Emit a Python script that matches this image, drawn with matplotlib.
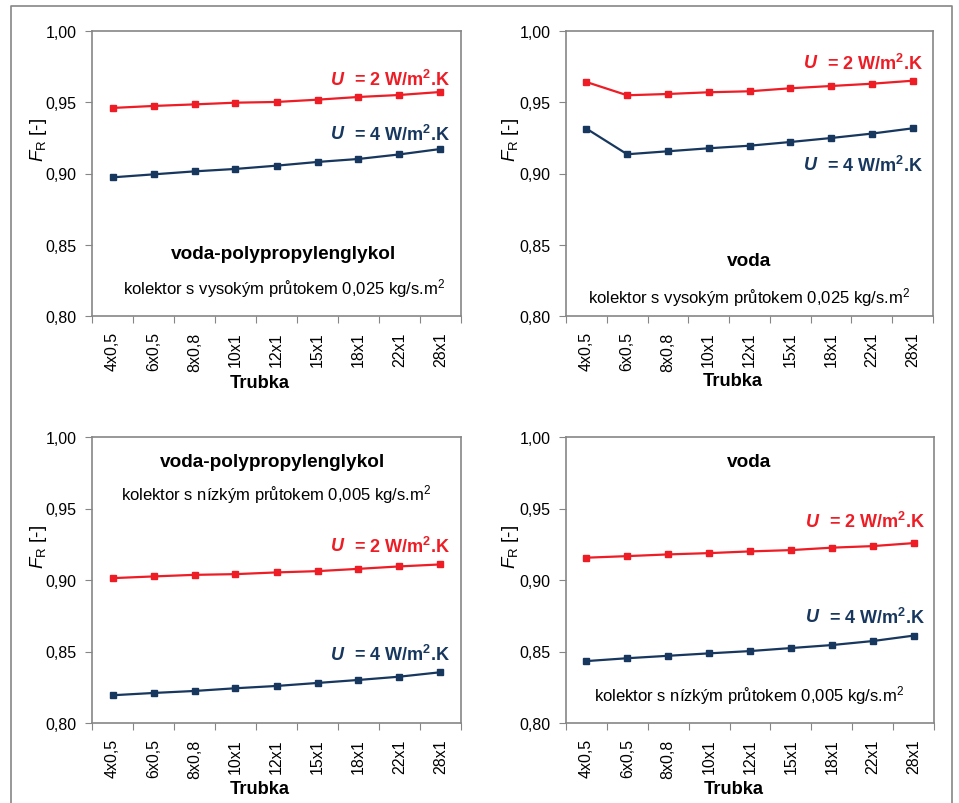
"""Faktor odvodu tepla F_R pro ruzne trubky - 4 panely."""

import matplotlib
matplotlib.use("Agg")
import matplotlib.pyplot as plt
from matplotlib.lines import Line2D

FONT = "Liberation Sans"
plt.rcParams["font.family"] = [FONT, "DejaVu Sans"]
plt.rcParams["mathtext.fontset"] = "custom"
plt.rcParams["mathtext.it"] = FONT + ":italic"
plt.rcParams["mathtext.rm"] = FONT
plt.rcParams["mathtext.bf"] = FONT + ":bold"

RED = "#EE1C25"
BLUE = "#17375E"
GRAY = "#868686"

tubes = ["4x0,5", "6x0,5", "8x0,8", "10x1", "12x1", "15x1", "18x1", "22x1", "28x1"]

# vysoky prutok 0,025 kg/s.m2
ppg_high_u2 = [0.946, 0.9474, 0.9485, 0.9497, 0.9502, 0.9518, 0.9537, 0.9551, 0.9572]
ppg_high_u4 = [0.8973, 0.8994, 0.9015, 0.9032, 0.9055, 0.9081, 0.9102, 0.9134, 0.9172]
voda_high_u2 = [0.9642, 0.9549, 0.9558, 0.9570, 0.9577, 0.9598, 0.9614, 0.9630, 0.9651]
voda_high_u4 = [0.9315, 0.9135, 0.9156, 0.9177, 0.9195, 0.9221, 0.9249, 0.9280, 0.9317]

# nizky prutok 0,005 kg/s.m2
ppg_low_u2 = [0.9013, 0.9025, 0.9036, 0.9041, 0.9053, 0.9062, 0.9078, 0.9095, 0.9109]
ppg_low_u4 = [0.8194, 0.8210, 0.8224, 0.8243, 0.8259, 0.8280, 0.8301, 0.8324, 0.8355]
voda_low_u2 = [0.9156, 0.9167, 0.9179, 0.9188, 0.9200, 0.9209, 0.9226, 0.9237, 0.9258]
voda_low_u4 = [0.8433, 0.8453, 0.8470, 0.8487, 0.8503, 0.8524, 0.8545, 0.8573, 0.8611]

yticks = [0.80, 0.85, 0.90, 0.95, 1.00]
ytick_labels = ["0,80", "0,85", "0,90", "0,95", "1,00"]

W, H = 959, 804


def px_rect(left, top, right, bottom):
    return [left / W, 1 - bottom / H, (right - left) / W, (bottom - top) / H]


def u_label(ax, x, y, value, color):
    rest = ax.text(x, y, f"= {value} W/m$^{{\\mathbf{{2}}}}$.K", transform=ax.transAxes,
                   ha="right", va="center", fontsize=13, fontweight="bold",
                   color=color)
    ax.annotate("U  ", xy=(0, 0.5), xycoords=rest, ha="right", va="center",
                fontsize=13, fontweight="bold", fontstyle="italic", color=color)


def draw_panel(ax, u2, u4, title, subtitle, pos):
    x = list(range(len(tubes)))
    ax.plot(x, u2, color=RED, lw=1.6, marker="s", ms=4.5)
    ax.plot(x, u4, color=BLUE, lw=1.6, marker="s", ms=4.5)

    ax.set_xlim(-0.5, len(tubes) - 0.5)
    ax.set_ylim(0.80, 1.00)
    ax.set_yticks(yticks)
    ax.set_yticklabels(ytick_labels)
    ax.set_xticks([i - 0.5 for i in range(len(tubes) + 1)])
    ax.set_xticklabels([])
    ax.set_xticks(x, minor=True)
    ax.set_xticklabels(tubes, minor=True, rotation=90)
    ax.tick_params(axis="both", which="major", direction="out", length=5,
                   color=GRAY, labelsize=11.5, pad=6)
    ax.tick_params(axis="x", which="minor", length=0, labelsize=11.5, pad=11)
    for sp in ax.spines.values():
        sp.set_color(GRAY)
        sp.set_linewidth(1.2)

    ax.set_ylabel(r"$F_{\mathrm{R}}$ [-]", fontsize=13.5, va="center")
    ax.yaxis.set_label_coords(pos["ylab"][0], pos["ylab"][1])
    ax.set_xlabel("Trubka", fontsize=13.2, fontweight="bold", va="center")
    ax.xaxis.set_label_coords(0.455, pos["xlab"])

    u_label(ax, pos["u_x"], pos["u2"], 2, RED)
    u_label(ax, pos["u_x"], pos["u4"], 4, BLUE)
    ax.text(pos["t_x"], pos["t_y"], title, transform=ax.transAxes, ha="center",
            va="center", fontsize=13.7, fontweight="bold")
    ax.text(pos["s_x"], pos["s_y"], subtitle + " kg/s.m$^{2}$",
            transform=ax.transAxes, ha="center", va="center", fontsize=12)


fig = plt.figure(figsize=(W / 100, H / 100), dpi=100)

panels = [
    (px_rect(92, 32, 461, 317), ppg_high_u2, ppg_high_u4, "voda-polypropylenglykol",
     "kolektor s vysokým průtokem 0,025",
     dict(ylab=(-0.146, 0.62), xlab=-0.232, u_x=0.97, u2=0.83, u4=0.64,
          t_x=0.52, t_y=0.22, s_x=0.52, s_y=0.10)),
    (px_rect(566, 32, 933, 317), voda_high_u2, voda_high_u4, "voda",
     "kolektor s vysokým průtokem 0,025",
     dict(ylab=(-0.152, 0.62), xlab=-0.226, u_x=0.973, u2=0.888, u4=0.53,
          t_x=0.50, t_y=0.193, s_x=0.50, s_y=0.067)),
    (px_rect(92, 438, 461, 724), ppg_low_u2, ppg_low_u4, "voda-polypropylenglykol",
     "kolektor s nízkým průtokem 0,005",
     dict(ylab=(-0.146, 0.62), xlab=-0.228, u_x=0.97, u2=0.619, u4=0.241,
          t_x=0.49, t_y=0.916, s_x=0.50, s_y=0.804)),
    (px_rect(566, 438, 934, 724), voda_low_u2, voda_low_u4, "voda",
     "kolektor s nízkým průtokem 0,005",
     dict(ylab=(-0.152, 0.62), xlab=-0.228, u_x=0.976, u2=0.706, u4=0.371,
          t_x=0.497, t_y=0.916, s_x=0.497, s_y=0.098)),
]

for rect, u2, u4, title, subtitle, pos in panels:
    ax = fig.add_axes(rect)
    draw_panel(ax, u2, u4, title, subtitle, pos)

# outer frame (left, top, right)
fx = [11 / W, 11 / W, 952 / W, 952 / W]
fy = [0, 1 - 7 / H, 1 - 7 / H, 0]
fig.add_artist(Line2D(fx, fy, color=GRAY, lw=1.2, transform=fig.transFigure))

fig.savefig("out.png", dpi=100)
